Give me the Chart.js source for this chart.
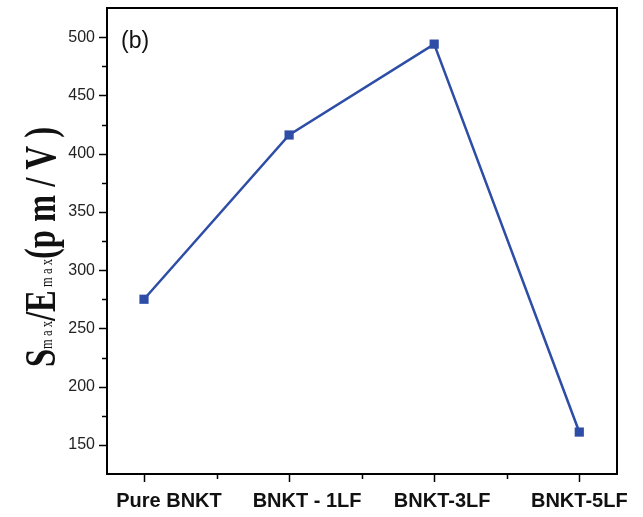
<!DOCTYPE html>
<html>
<head>
    <title>Smax/Emax</title>
    <script src="https://cdn.jsdelivr.net/npm/chart.js"></script>
    <style>
        body { margin: 0; background: white; }
        .wrap { width: 643px; height: 517px; }
    </style>
</head>
<body>
    <div class="wrap"><canvas id="chart" width="643" height="517"></canvas></div>

    <script>
        const categories = ['Pure BNKT', 'BNKT - 1LF', 'BNKT-3LF', 'BNKT-5LF'];
        const ratio = [275, 416, 494, 161];
        const yTicks = [150, 200, 250, 300, 350, 400, 450, 500];

        const blue = '#2d4da6';
        // the original figure's category labels sit a bit right of their ticks
        const labelShift = [25, 18, 8, 0];

        // outward ticks, minor ones shorter, category labels, plus the frame
        const frame = {
            id: 'frame',
            afterDraw(chart) {
                const ctx = chart.ctx;
                const a = chart.chartArea;
                const xs = chart.scales.x, ys = chart.scales.y;
                ctx.save();
                ctx.strokeStyle = '#000';
                ctx.lineWidth = 1.5;
                ctx.beginPath();
                ys.ticks.forEach(t => {
                    if (t.value % 25 !== 0) return;
                    const len = t.value % 50 === 0 ? 8 : 5;
                    const py = Math.round(ys.getPixelForValue(t.value)) + 0.5;
                    ctx.moveTo(a.left - len, py);
                    ctx.lineTo(a.left, py);
                });
                xs.ticks.forEach(t => {
                    if (t.value < 0 || t.value > 3) return;
                    const len = Number.isInteger(t.value) ? 8 : 5;
                    const px = Math.round(xs.getPixelForValue(t.value)) + 0.5;
                    ctx.moveTo(px, a.bottom);
                    ctx.lineTo(px, a.bottom + len);
                });
                ctx.stroke();
                ctx.lineWidth = 2;
                ctx.strokeRect(a.left, a.top, a.right - a.left, a.bottom - a.top);

                ctx.fillStyle = '#111';
                ctx.font = 'bold 20px "Liberation Sans", Arial, sans-serif';
                ctx.textAlign = 'center';
                ctx.textBaseline = 'middle';
                categories.forEach((c, i) => {
                    ctx.fillText(c, xs.getPixelForValue(i) + labelShift[i], a.bottom + 27);
                });

                // panel letter
                ctx.textAlign = 'left';
                ctx.font = '23px "Liberation Sans", Arial, sans-serif';
                ctx.textBaseline = 'alphabetic';
                ctx.fillText('(b)', 121, 48);

                // y title with subscripts
                const parts = [
                    { t: 'S', big: true },
                    { t: 'm a x', big: false },
                    { t: '/E', big: true },
                    { t: ' m a x', big: false },
                    { t: '(p m / V )', big: true }
                ];
                const bigFont = 'bold 44px "Liberation Serif", "Times New Roman", serif';
                const smallFont = '17px "Liberation Serif", "Times New Roman", serif';
                let total = 0;
                parts.forEach(p => {
                    ctx.font = p.big ? bigFont : smallFont;
                    p.w = ctx.measureText(p.t).width;
                    total += p.w;
                });
                const target = 240;
                ctx.translate(55, 367);
                ctx.rotate(-Math.PI / 2);
                ctx.scale(target / total, 1);
                let x = 0;
                parts.forEach(p => {
                    ctx.font = p.big ? bigFont : smallFont;
                    ctx.fillText(p.t, x, p.big ? 0 : -3);
                    x += p.w;
                });
                ctx.restore();
            }
        };

        new Chart(document.getElementById('chart'), {
            type: 'line',
            data: {
                datasets: [{
                    data: ratio.map((v, i) => ({ x: i, y: v })),
                    borderColor: blue,
                    backgroundColor: blue,
                    borderWidth: 2.5,
                    pointStyle: 'rect',
                    pointRadius: 6.5,
                    pointBorderWidth: 0,
                    tension: 0
                }]
            },
            options: {
                responsive: false,
                animation: false,
                layout: { padding: { top: 8, right: 26, left: 0, bottom: 0 } },
                plugins: { legend: { display: false }, tooltip: { enabled: false } },
                scales: {
                    x: {
                        type: 'linear',
                        min: -0.255,
                        max: 3.26,
                        afterBuildTicks(s) {
                            s.ticks = [0, 0.5, 1, 1.5, 2, 2.5, 3].map(v => ({ value: v }));
                        },
                        afterFit(s) { s.height = 43; s.paddingLeft = 0; s.paddingRight = 0; },
                        grid: { display: false },
                        border: { display: false },
                        ticks: {
                            autoSkip: false,
                            maxRotation: 0,
                            callback: () => ''
                        }
                    },
                    y: {
                        min: 125,
                        max: 525,
                        afterBuildTicks(s) {
                            const t = [];
                            for (let v = 150; v <= 500; v += 25) t.push({ value: v });
                            s.ticks = t;
                        },
                        afterFit(s) { s.width = 107; s.paddingTop = 0; s.paddingBottom = 0; },
                        grid: { display: false },
                        border: { display: false },
                        ticks: {
                            autoSkip: false,
                            padding: 4,
                            color: '#222',
                            font: { family: '"Liberation Sans", Arial, sans-serif', size: 16 },
                            callback: v => yTicks.includes(v) ? String(v) : ''
                        }
                    }
                }
            },
            plugins: [frame]
        });
    </script>
</body>
</html>
